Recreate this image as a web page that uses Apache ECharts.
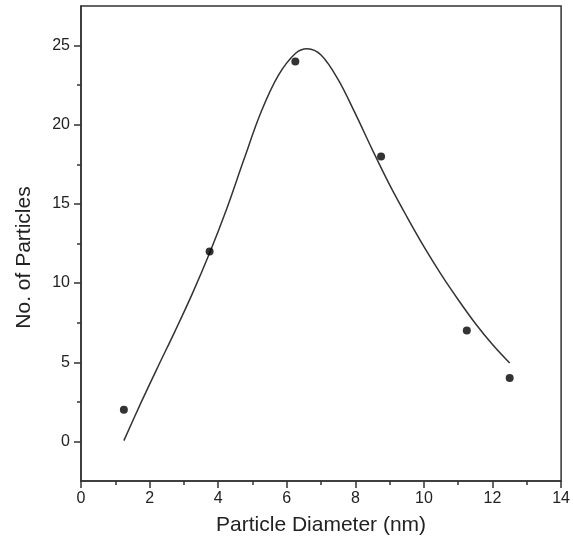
<!DOCTYPE html>
<html>
<head>
<meta charset="utf-8">
<script src="https://cdn.jsdelivr.net/npm/echarts@6/dist/echarts.min.js"></script>
<style>html,body{margin:0;padding:0;background:#fff}#c{width:573px;height:543px}</style>
</head>
<body>
<div id="c"></div>
<script>
// Measured particle counts
const diameters = [1.25, 3.75, 6.25, 8.75, 11.25, 12.5];
const counts = [2, 12, 24, 18, 7, 4];

// Fitted curve
const fitX = [1.25, 1.75, 2.25, 2.75, 3.25, 3.75, 4.25, 4.75, 5.25, 5.75, 6.25, 6.6, 7.0, 7.5, 8.0, 8.5, 9.0, 9.5, 10.0, 10.5, 11.0, 11.5, 12.0, 12.5];
const fitY = [0.05, 2.45, 4.75, 7.0, 9.35, 11.9, 14.7, 17.8, 20.8, 23.1, 24.5, 24.8, 24.4, 22.85, 20.7, 18.4, 16.2, 14.2, 12.3, 10.55, 8.95, 7.45, 6.12, 4.95];

// Axis ticks
const yMajorTicks = [0, 5, 10, 15, 20, 25];
const yMinorTicks = [2.5, 7.5, 12.5, 17.5, 22.5];

const chart = echarts.init(document.getElementById('c'));
const fontFamily = '"Liberation Sans", Arial, sans-serif';
const ink = '#222';

chart.setOption({
  animation: false,
  backgroundColor: '#fff',
  grid: {
    left: 81, right: 11, top: 6, bottom: 62,
    show: true, borderColor: '#333', borderWidth: 1.5, backgroundColor: 'transparent'
  },
  xAxis: {
    type: 'value', min: 0, max: 14, interval: 2,
    name: 'Particle Diameter (nm)', nameLocation: 'middle', nameGap: 34,
    nameTextStyle: { fontFamily, fontSize: 21, color: ink },
    axisLine: { show: true, onZero: false, lineStyle: { color: '#333', width: 1.5 } },
    axisTick: { show: true, length: 7, lineStyle: { color: '#333', width: 1.5 } },
    minorTick: { show: true, splitNumber: 2, length: 4, lineStyle: { color: '#333', width: 1.5 } },
    axisLabel: { fontFamily, fontSize: 16, color: ink, margin: 10 },
    splitLine: { show: false }
  },
  yAxis: [{
    type: 'value', min: -2.5, max: 27.5,
    name: 'No. of Particles', nameLocation: 'middle', nameGap: 46,
    nameTextStyle: { fontFamily, fontSize: 21, color: ink, padding: [0, 28, 0, 0] },
    axisLine: { show: true, onZero: false, lineStyle: { color: '#333', width: 1.5 } },
    axisTick: { show: true, length: 7, customValues: yMajorTicks, lineStyle: { color: '#333', width: 1.5 } },
    axisLabel: { fontFamily, fontSize: 16, color: ink, margin: 11, customValues: yMajorTicks },
    splitLine: { show: false }
  }, {
    type: 'value', min: -2.5, max: 27.5, position: 'left',
    axisLine: { show: false, onZero: false },
    axisTick: { show: true, length: 4, customValues: yMinorTicks, lineStyle: { color: '#333', width: 1.5 } },
    axisLabel: { show: false },
    splitLine: { show: false }
  }],
  series: [{
    type: 'line',
    data: fitX.map((x, i) => [x, fitY[i]]),
    smooth: 0.35,
    showSymbol: false,
    lineStyle: { color: '#333', width: 1.5 },
    z: 2
  }, {
    type: 'scatter',
    data: diameters.map((x, i) => [x, counts[i]]),
    symbol: 'circle', symbolSize: 8,
    itemStyle: { color: '#000' },
    z: 3
  }]
});
</script>
</body>
</html>
